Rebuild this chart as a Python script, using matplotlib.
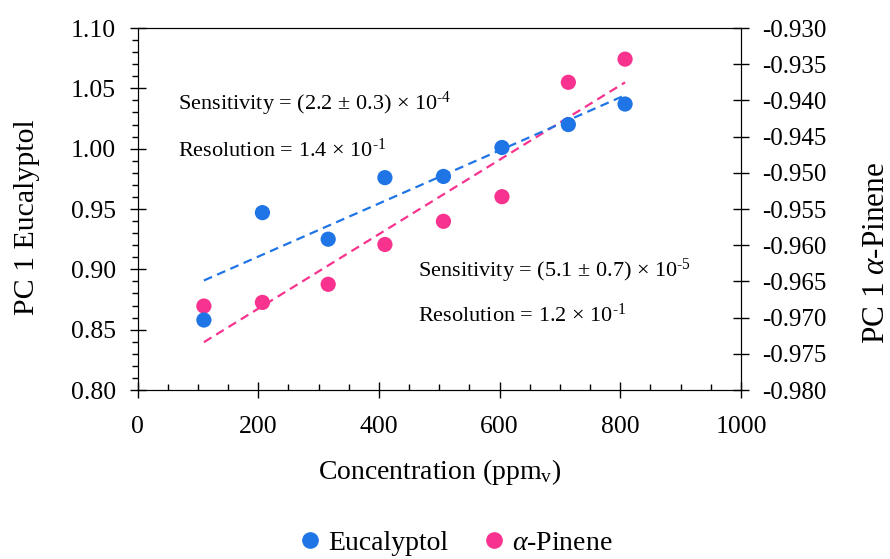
import numpy as np
from matplotlib import pyplot as plt
from matplotlib.ticker import MultipleLocator, FormatStrFormatter
from matplotlib.lines import Line2D

plt.rcParams['font.family'] = ['Liberation Serif', 'DejaVu Serif']
plt.rcParams['mathtext.fontset'] = 'custom'
plt.rcParams['mathtext.rm'] = 'Liberation Serif'
plt.rcParams['mathtext.it'] = 'Liberation Serif:italic'
plt.rcParams['axes.unicode_minus'] = False

conc = np.array([110, 207, 316, 410, 507, 604, 714, 808])
eucalyptol = np.array([0.858, 0.947, 0.925, 0.976, 0.977, 1.001, 1.020, 1.037])
pinene = np.array([-0.9684, -0.9679, -0.9654, -0.9599, -0.9567, -0.9533, -0.9375, -0.9343])

blue = '#1f74e6'
pink = '#f7338f'

fig = plt.figure(figsize=(8.9, 5.59), dpi=100)
ax = fig.add_axes([0.1545, 0.3023, 0.678, 0.6476])
ax2 = ax.twinx()

# linear fits
p_e = np.polyfit(conc, eucalyptol, 1)
p_p = np.polyfit(conc, pinene, 1)
xf = np.array([conc.min(), conc.max()])

ax2.plot(xf, np.polyval(p_p, xf), color=pink, ls='--', lw=1.6, dashes=(4, 2.5))
ax2.scatter(conc, pinene, s=120, color=pink, edgecolors='none', zorder=3)
ax.plot(xf, np.polyval(p_e, xf), color=blue, ls='--', lw=1.6, dashes=(4, 2.5))
ax.scatter(conc, eucalyptol, s=120, color=blue, edgecolors='none', zorder=3)

ax.set_zorder(ax2.get_zorder() + 1)
ax.patch.set_visible(False)

ax.set_xlim(0, 1000)
ax.set_ylim(0.80, 1.10)
ax2.set_ylim(-0.980, -0.930)

ax.xaxis.set_major_locator(MultipleLocator(200))
ax.xaxis.set_minor_locator(MultipleLocator(50))
ax.yaxis.set_major_locator(MultipleLocator(0.05))
ax.yaxis.set_minor_locator(MultipleLocator(0.01))
ax.yaxis.set_major_formatter(FormatStrFormatter('%.2f'))
ax2.yaxis.set_major_locator(MultipleLocator(0.005))
ax2.yaxis.set_major_formatter(FormatStrFormatter('%.3f'))

ax.tick_params(axis='both', which='major', direction='inout', length=11, width=1, labelsize=18.5)
ax.tick_params(axis='y', which='minor', direction='out', length=4.5, width=1)
ax.tick_params(axis='x', which='minor', direction='in', length=4, width=1)
ax.tick_params(axis='x', which='major', pad=13)
ax.tick_params(axis='y', which='major', pad=10)
ax2.tick_params(axis='y', which='major', direction='inout', length=11, width=1, labelsize=18, pad=10)

ax.set_xlabel(r'Concentration (ppm$_{\mathrm{v}}$)', fontsize=20)
ax.xaxis.set_label_coords(0.5, -0.185)
ax.set_ylabel('PC 1 Eucalyptol', fontsize=21.5)
ax.yaxis.set_label_coords(-0.162, 0.478)
ax2.set_ylabel(r'PC 1 $\alpha$-Pinene', fontsize=22.5)
ax2.yaxis.set_label_coords(1.2, 0.38)

ax.text(67, 1.037, r'Sensitivity = (2.2 ± 0.3) × 10$^{\text{-4}}$', fontsize=16, va='center')
ax.text(67, 0.999, r'Resolution = 1.4 × 10$^{\text{-1}}$', fontsize=16, va='center')
ax.text(465, 0.899, r'Sensitivity = (5.1 ± 0.7) × 10$^{\text{-5}}$', fontsize=16, va='center')
ax.text(465, 0.862, r'Resolution = 1.2 × 10$^{\text{-1}}$', fontsize=16, va='center')

handles = [Line2D([], [], marker='o', ls='none', color=blue, markersize=11),
           Line2D([], [], marker='o', ls='none', color=pink, markersize=11)]
fig.legend(handles, ['Eucalyptol', r'$\alpha$-Pinene'], loc='center',
           bbox_to_anchor=(0.513, 0.028), ncol=2, frameon=False, fontsize=20,
           handlelength=0.7, handletextpad=0.3, columnspacing=1.3)

plt.savefig('out.png', dpi=100)
